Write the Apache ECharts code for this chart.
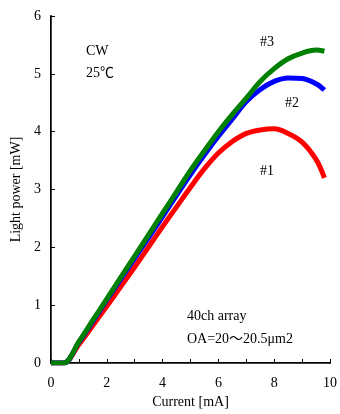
<!DOCTYPE html>
<html>
<head>
<meta charset="utf-8">
<script src="https://cdn.jsdelivr.net/npm/echarts@6/dist/echarts.min.js"></script>
<style>
  html, body { margin: 0; padding: 0; background: #fff; }
  #chart { width: 340px; height: 414px; }
</style>
</head>
<body>
<div id="chart"></div>
<script>
// current [mA]
const current = [0, 0.45, 1, 1.5, 2, 2.5, 3, 3.5, 4, 4.5, 5, 5.5, 6, 6.5, 7, 7.5, 8, 8.5, 9, 9.5, 9.8]
// light power [mW] per array group
const power1 = [0, 0, 0.32, 0.65, 0.98, 1.32, 1.66, 2.01, 2.36, 2.70, 3.04, 3.36, 3.63, 3.83, 3.97, 4.03, 4.05, 3.97, 3.82, 3.52, 3.20]
const power2 = [0, 0, 0.36, 0.72, 1.09, 1.45, 1.81, 2.17, 2.53, 2.90, 3.26, 3.60, 3.92, 4.22, 4.52, 4.73, 4.87, 4.93, 4.92, 4.83, 4.72]
const power3 = [0, 0, 0.37, 0.74, 1.11, 1.48, 1.85, 2.22, 2.59, 2.96, 3.33, 3.67, 4.00, 4.30, 4.58, 4.87, 5.09, 5.26, 5.36, 5.41, 5.39]
const xTicks = [0, 2, 4, 6, 8, 10]

const font = "'Liberation Serif', 'Times New Roman', serif"
const pairs = (ys) => current.map((x, i) => [x, ys[i]])

const chart = echarts.init(document.getElementById('chart'), null, { renderer: 'canvas' })

function curve(name, ys, color) {
  return {
    name,
    type: 'line',
    data: pairs(ys),
    smooth: 0.35,
    showSymbol: false,
    lineStyle: { color, width: 5 },
    itemStyle: { color },
  }
}

const note = (text, x, y) => ({
  type: 'text', x, y,
  style: {
    text, fill: '#000', font: "14px 'Liberation Serif', 'Noto Sans CJK JP', serif",
    textVerticalAlign: 'middle',
  },
})

chart.setOption({
  animation: false,
  grid: { left: 51, right: 8, top: 16, bottom: 48 },
  xAxis: [{
    type: 'value', min: 0, max: 10, interval: 1,
    name: 'Current [mA]', nameLocation: 'middle', nameGap: 32,
    nameTextStyle: { color: '#000', fontFamily: font, fontSize: 14 },
    axisLine: { lineStyle: { color: '#000', width: 2 } },
    axisTick: { inside: true, length: 4, lineStyle: { color: '#000' } },
    axisLabel: {
      color: '#000', fontFamily: font, fontSize: 14, margin: 13,
      formatter: (v) => (xTicks.includes(v) ? String(v) : ''),
    },
    splitLine: { show: false },
  }, {
    type: 'value', min: 0, max: 10, position: 'top',
    axisLine: { lineStyle: { color: '#444', width: 1 } },
    axisTick: { show: false }, axisLabel: { show: false }, splitLine: { show: false },
  }],
  yAxis: [{
    type: 'value', min: 0, max: 6, interval: 1,
    name: 'Light power [mW]', nameLocation: 'middle', nameGap: 28,
    nameTextStyle: { color: '#000', fontFamily: font, fontSize: 14 },
    axisLine: { show: true, lineStyle: { color: '#000', width: 2 } },
    axisTick: { show: true, inside: true, length: 4, lineStyle: { color: '#000' } },
    axisLabel: { color: '#000', fontFamily: font, fontSize: 14, margin: 10 },
    splitLine: { show: false },
  }, {
    type: 'value', min: 0, max: 6, position: 'right',
    axisLine: { show: true, lineStyle: { color: '#444', width: 1 } },
    axisTick: { show: false }, axisLabel: { show: false }, splitLine: { show: false },
  }],
  series: [
    curve('#1', power1, '#ff0000'),
    curve('#2', power2, '#0000ff'),
    curve('#3', power3, '#008000'),
  ],
  graphic: [
    note('CW', 86, 51),
    note('25℃', 86, 73),
    note('#3', 260, 42),
    note('#2', 285, 103),
    note('#1', 260, 171),
    note('40ch array', 187, 316),
    note('OA=20～20.5μm2', 187, 339),
  ],
})
</script>
</body>
</html>
